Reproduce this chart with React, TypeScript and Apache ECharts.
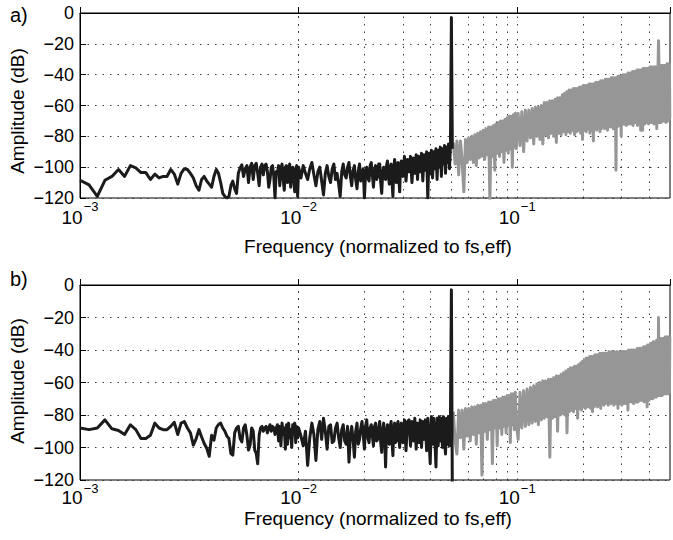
import React, { useEffect, useRef } from 'react';
import * as echarts from 'echarts';

// ---------- data (dB) ----------
// black trace a), bins 0.0010 .. 0.0099 (step 1e-4)
const blackLowA = [
  -108.5, -111.5, -119, -108.5, -106, -101.5, -106, -99, -100.5, -103.5,
  -103.5, -108, -104.5, -107, -106, -106, -101.5, -104.5, -111, -104,
  -101, -101.5, -104, -107, -112, -115, -108, -106, -109, -111,
  -113, -106, -101.5, -104, -110, -117, -119, -120, -119, -112,
  -109, -114, -117, -104, -100.5, -98.5, -106, -101, -99, -110,
  -100, -97.5, -108, -99, -97.5, -104, -112, -100, -98, -105,
  -99, -98, -103, -113, -108, -100, -99, -106, -120, -103,
  -104, -99, -112, -101, -98, -108, -115, -100, -99, -110,
  -104, -98, -113, -102, -100, -108, -116, -101, -99, -119,
];
// black trace a), bins 0.01000 .. 0.02975 (step 2.5e-4)
const blackMidA = [
  -100, -107, -99, -104, -108, -101, -97, -105, -112, -103,
  -100, -109, -118, -104, -99, -106, -110, -101, -98, -108,
  -104, -111, -119, -103, -98, -105, -107, -100, -97, -106,
  -112, -102, -99, -108, -114, -103, -98, -109, -106, -101,
  -120, -104, -100, -107, -109, -99, -97, -105, -113, -102,
  -99, -108, -106, -98, -98, -110, -117, -103, -100, -107,
  -108, -99, -96, -106, -111, -100, -98, -109, -119, -101,
  -95, -105, -110, -98, -97, -107, -116, -100, -96, -104,
];
// black trace a), bins 0.0300 .. 0.0505 (step 5e-4), tone at 0.05
const blackHighA = [
  -106, -93, -109, -95, -103, -93, -110, -94, -104, -92,
  -108, -93, -103, -91, -109, -92, -102, -90, -120, -91,
  -104, -89, -107, -90, -101, -88, -108, -89, -100, -87,
  -106, -88, -98, -86, -104, -87, -97, -85, -101, -86,
  -3, -88,
];
// gray trace a), bins 0.051 .. 0.099 (step 0.001)
const grayLowA = [
  -84, -98, -83, -105, -83, -96, -116, -82, -97, -81,
  -95, -80, -97, -79, -99, -78, -94, -77, -93, -76,
  -95, -75, -92, -74, -122, -74, -93, -73, -102, -72,
  -91, -71, -93, -70, -90, -70, -97, -69, -89, -68,
  -91, -67, -88, -67, -100, -66, -87, -65, -88,
];
// gray trace a), bins 0.101 .. 0.499 (step 0.002)
const grayHighA = [
  -65, -86, -64, -90, -63,
  -83, -63, -81, -62, -85, -61, -80, -61, -82, -60,
  -85, -58, -79, -58, -81, -57, -78, -57, -80, -56,
  -84, -55, -78, -55, -79, -53, -77, -52, -79, -51,
  -77, -50, -78, -50, -76, -49, -79, -49, -77, -49,
  -76, -48, -78, -48, -82, -47, -76, -47, -77, -47,
  -75, -46, -78, -46, -76, -46, -83, -46, -75, -45,
  -76, -45, -74, -45, -77, -44, -75, -44, -73, -44,
  -75, -43, -74, -43, -76, -43, -73, -43, -74, -42,
  -73, -42, -75, -42, -72, -42, -102, -42, -74, -41,
  -72, -41, -73, -41, -80, -41, -71, -40, -72, -40,
  -71, -40, -73, -40, -70, -39, -72, -39, -71, -39,
  -72, -39, -70, -38, -73, -38, -71, -38, -70, -38,
  -71, -37, -73, -37, -70, -37, -72, -37, -76, -37,
  -71, -37, -76, -36, -70, -36, -72, -36, -70, -36,
  -71, -36, -69, -36, -72, -36, -70, -35, -71, -35,
  -69, -35, -71, -35, -70, -35, -72, -35, -69, -35,
  -71, -35, -75, -35, -70, -34, -18, -34, -71, -34,
  -69, -34, -71, -34, -68, -34, -70, -34, -69, -34,
  -70, -34, -68, -34, -71, -34, -69, -33, -68, -33,
  -70, -33, -69, -33, -68,
];

// black trace b)
const blackLowB = [
  -88, -89, -88, -83, -88.5, -89.5, -92, -86, -89, -94.5,
  -94.5, -92.5, -85, -88, -89, -89, -87, -84.5, -92, -85,
  -84, -88, -91, -98.5, -94.5, -89, -93.5, -97.5, -100.5, -105.5,
  -92.5, -95.5, -88, -85.8, -85, -88, -90, -93, -94.5, -103.7,
  -104.7, -91, -88, -87, -94.5, -96.5, -88, -86, -92.5, -101.6,
  -98.5, -88, -90, -101.6, -103.7, -110, -92.4, -88, -87, -90,
  -88, -87, -91, -88, -86, -90, -87, -88, -92, -88,
  -86, -96, -87, -99, -85, -92, -88, -101, -86, -98,
  -85, -94, -89, -100, -86, -91, -85, -97, -87, -94,
];
const blackMidB = [
  -88, -93, -99, -90, -111, -94, -85, -92, -108, -89,
  -84, -95, -82, -90, -101, -87, -86, -97, -96, -88,
  -85, -94, -100, -89, -86, -96, -98, -87, -109, -93,
  -87, -95, -106, -90, -85, -98, -95, -88, -84, -92,
  -101, -87, -83, -94, -97, -88, -86, -93, -99, -87,
  -85, -96, -95, -88, -84, -97, -103, -89, -85, -94,
  -112, -90, -86, -95, -98, -87, -84, -96, -105, -88,
  -85, -97, -96, -86, -84, -93, -100, -88, -85, -95,
];
const blackHighB = [
  -97, -83, -102, -84, -83, -99, -84, -96, -82, -101,
  -85, -97, -83, -100, -84, -95, -83, -102, -82, -96,
  -110, -81, -98, -82, -95, -112, -82, -99, -81, -96,
  -82, -100, -81, -97, -104, -82, -98, -81, -99, -83,
  -3, -130,
];
const grayLowB = [
  -78, -96, -104, -77, -94, -77, -101, -76, -93, -76,
  -96, -75, -92, -75, -98, -74, -91, -74, -117, -73,
  -90, -73, -95, -72, -89, -72, -110, -71, -88, -71,
  -99, -70, -88, -70, -92, -69, -87, -69, -91, -68,
  -86, -68, -97, -67, -86, -67, -89, -66, -85,
];
const grayHighB = [
  -95, -66, -88, -65, -87,
  -64, -86, -63, -85, -62, -84, -61, -86, -60, -83,
  -59, -82, -59, -81, -58, -106, -58, -82, -57, -81,
  -56, -90, -56, -80, -55, -79, -54, -80, -53, -91,
  -52, -78, -51, -77, -51, -78, -50, -76, -50, -82,
  -49, -76, -48, -77, -47, -75, -46, -76, -45, -75,
  -45, -75, -44, -76, -44, -78, -44, -75, -43, -74,
  -43, -75, -43, -74, -42, -76, -42, -73, -42, -74,
  -42, -73, -42, -72, -42, -74, -41, -72, -42, -73,
  -41, -72, -42, -74, -41, -72, -42, -73, -41, -76,
  -42, -73, -41, -72, -42, -74, -41, -72, -41, -73,
  -41, -72, -41, -73, -41, -77, -40, -72, -41, -71,
  -40, -72, -40, -71, -40, -73, -40, -71, -40, -72,
  -40, -71, -39, -72, -40, -70, -39, -71, -39, -70,
  -39, -71, -39, -70, -38, -72, -38, -70, -38, -71,
  -38, -75, -37, -70, -37, -71, -37, -69, -36, -70,
  -36, -69, -36, -70, -35, -68, -35, -69, -35, -68,
  -35, -69, -34, -68, -34, -67, -20, -68, -34, -67,
  -34, -68, -33, -67, -33, -68, -33, -67, -33, -66,
  -33, -67, -32, -66, -32, -67, -32, -66, -32, -66,
  -32, -67, -32, -66, -32,
];

// FFT bin frequencies (normalized to fs,eff)
const lowFreqs = blackLowA.map((_, i) => (10 + i) / 10000);
const midFreqs = blackMidA.map((_, i) => (40 + i) / 4000);
const highFreqs = blackHighA.map((_, i) => (60 + i) / 2000);
const grayLowFreqs = grayLowA.map((_, i) => (51 + i) / 1000);
const grayHighFreqs = grayHighA.map((_, i) => (101 + 2 * i) / 1000);

// dotted vertical grid positions
const gridFreqs = [
  0.002, 0.003, 0.004, 0.005, 0.006, 0.007, 0.008, 0.009,
  0.01, 0.02, 0.03, 0.04, 0.05, 0.06, 0.07, 0.08, 0.09,
  0.1, 0.2, 0.3, 0.4,
];
const yTicks = { min: -120, max: 0, step: 20 };
const xRange = { min: 0.001, max: 0.5 };

const panelLabels = ['a)', 'b)'];
const yTitle = 'Amplitude (dB)';
const xTitle = 'Frequency (normalized to fs,eff)';

const FONT = "'Liberation Sans', Arial, Helvetica, sans-serif";
const BLACK = '#1b1b1b';
const GRAY = '#969696';

function pairs(f: number[], v: number[]) {
  return v.map((y, i) => [f[i], y]);
}

export default function App() {
  const ref = useRef<HTMLDivElement>(null);
  useEffect(() => {
    if (!ref.current) return;
    const chart = echarts.init(ref.current, undefined, { renderer: 'svg' });

    const panels = [
      { top: 13, height: 185, lh: 27, low: blackLowA, mid: blackMidA, high: blackHighA, gLow: grayLowA, gHigh: grayHighA },
      { top: 285, height: 195, lh: 25, low: blackLowB, mid: blackMidB, high: blackHighB, gLow: grayLowB, gHigh: grayHighB },
    ];

    const grid: any[] = [];
    const xAxis: any[] = [];
    const yAxis: any[] = [];
    const series: any[] = [];
    const dotted = { type: [1.5, 6], color: '#3a3a3a', width: 1 };

    panels.forEach((p, gi) => {
      grid.push({
        left: 80, top: p.top, width: 596.5, height: p.height,
        show: true, borderColor: '#000', borderWidth: 1,
      });
      xAxis.push({
        type: 'log', logBase: 10, gridIndex: gi, min: xRange.min, max: xRange.max,
        axisLine: { show: true, lineStyle: { color: '#000', width: 1 } },
        axisTick: { show: true, inside: true, length: 6, lineStyle: { color: '#000' } },
        splitLine: { show: false },
        axisLabel: {
          margin: 2,
          formatter: (v: number) => {
            const lg = Math.log10(v);
            const e = Math.round(lg);
            if (Math.abs(lg - e) > 1e-6) return '';
            return `{b|10}{s|−${-e}}`;
          },
          rich: {
            b: { fontSize: 19, fontFamily: FONT, color: '#000', lineHeight: p.lh, verticalAlign: 'bottom' },
            s: { fontSize: 13, fontFamily: FONT, color: '#000', lineHeight: p.lh, verticalAlign: 'top', padding: [0, 0, 0, 1] },
          },
        },
      });
      yAxis.push({
        type: 'value', gridIndex: gi, min: yTicks.min, max: yTicks.max, interval: yTicks.step,
        axisLine: { show: true, lineStyle: { color: '#000', width: 1 } },
        axisTick: { show: true, inside: true, length: 6, lineStyle: { color: '#000' } },
        axisLabel: {
          margin: 6, fontSize: 18, lineHeight: 12, fontFamily: FONT, color: '#000',
          formatter: (v: number) => String(v).replace('-', '\u2212'),
        },
        splitLine: { show: true, lineStyle: dotted },
      });
      series.push({
        type: 'line', xAxisIndex: gi, yAxisIndex: gi, z: 2,
        data: pairs(grayLowFreqs, p.gLow).concat(pairs(grayHighFreqs, p.gHigh)),
        showSymbol: false, symbol: 'none', silent: true,
        lineStyle: { color: GRAY, width: 3, join: 'round' },
        markLine: {
          silent: true, symbol: ['none', 'none'], z: 1, animation: false,
          label: { show: false },
          lineStyle: dotted,
          emphasis: { disabled: true },
          data: gridFreqs.map((f) => ({ xAxis: f })),
        },
      });
      series.push({
        type: 'line', xAxisIndex: gi, yAxisIndex: gi, z: 3,
        data: pairs(lowFreqs, p.low).concat(pairs(midFreqs, p.mid), pairs(highFreqs, p.high)),
        showSymbol: false, symbol: 'none', silent: true,
        lineStyle: { color: BLACK, width: 3, join: 'round' },
      });
    });

    const txt = (text: string, x: number, y: number, size: number, align = 'center', rotation = 0) => ({
      type: 'text', x, y, rotation, silent: true,
      style: { text, fontSize: size, lineHeight: 14, fontFamily: FONT, fill: '#000', align, verticalAlign: 'middle' },
    });

    const graphic = [
      txt(panelLabels[0], 10, 15, 20, 'left'),
      txt(panelLabels[1], 10, 279, 20, 'left'),
      txt(yTitle, 17, 111, 19, 'center', Math.PI / 2),
      txt(yTitle, 17, 381, 19, 'center', Math.PI / 2),
      txt(xTitle, 378, 246, 19),
      txt(xTitle, 378, 518, 19),
    ];

    chart.setOption({
      animation: false,
      backgroundColor: '#fff',
      grid, xAxis, yAxis, series, graphic,
    });
    return () => chart.dispose();
  }, []);

  return (
    <div
      ref={ref}
      style={{ position: 'absolute', left: 0, top: 0, width: 673, height: 540 }}
    />
  );
}
